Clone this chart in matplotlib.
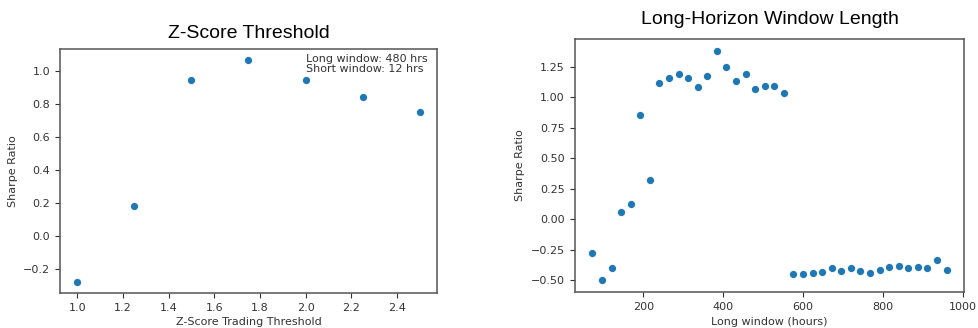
import matplotlib
matplotlib.use("Agg")
import matplotlib.pyplot as plt

# Z-score threshold sweep
z_thresholds = [1.0, 1.25, 1.5, 1.75, 2.0, 2.25, 2.5]
z_sharpe = [-0.28, 0.18, 0.947, 1.067, 0.947, 0.842, 0.751]

# long-horizon window sweep (hours)
long_windows = [72, 96, 120, 144, 168, 192, 216, 240, 264, 288, 312, 336, 360,
                384, 408, 432, 456, 480, 504, 528, 552, 576, 600, 624, 648, 672,
                696, 720, 744, 768, 792, 816, 840, 864, 888, 912, 936, 960]
window_sharpe = [-0.275, -0.50, -0.40, 0.06, 0.13, 0.855, 0.325, 1.117, 1.163,
                 1.193, 1.161, 1.085, 1.174, 1.384, 1.253, 1.131, 1.196, 1.068,
                 1.093, 1.09, 1.033, -0.45, -0.45, -0.44, -0.43, -0.40, -0.42,
                 -0.40, -0.42, -0.44, -0.41, -0.39, -0.385, -0.40, -0.39, -0.395,
                 -0.33, -0.41]

plt.rcParams['font.size'] = 8
plt.rcParams['axes.edgecolor'] = '#555555'
plt.rcParams['axes.linewidth'] = 1.1
plt.rcParams['xtick.color'] = '#333333'
plt.rcParams['ytick.color'] = '#333333'
plt.rcParams['axes.labelcolor'] = '#333333'

fig = plt.figure(figsize=(9.79, 3.28), dpi=100)
ax1 = fig.add_axes([0.0613, 0.1067, 0.385, 0.744])
ax2 = fig.add_axes([0.587, 0.1098, 0.398, 0.771])

dot = dict(color='#1f77b4', s=34, edgecolor='white', linewidth=0.6)

ax1.scatter(z_thresholds, z_sharpe, **dot)
ax1.set_xlabel('Z-Score Trading Threshold', labelpad=3)
ax1.set_ylabel('Sharpe Ratio')
ax1.set_title('Z-Score Threshold', fontsize=14, family='Liberation Sans', pad=8)
ax1.text(2.0, 1.105, 'Long window: 480 hrs\nShort window: 12 hrs',
         va='top', ha='left', fontsize=8, linespacing=1.05, color='#333333')

ax2.scatter(long_windows, window_sharpe, **dot)
ax2.set_xlabel('Long window (hours)', labelpad=4)
ax2.set_ylabel('Sharpe Ratio')
ax2.set_title('Long-Horizon Window Length', fontsize=14, family='Liberation Sans', pad=11)
ax2.set_xticks([200, 400, 600, 800, 1000])

fig.savefig('out.png', dpi=100)
